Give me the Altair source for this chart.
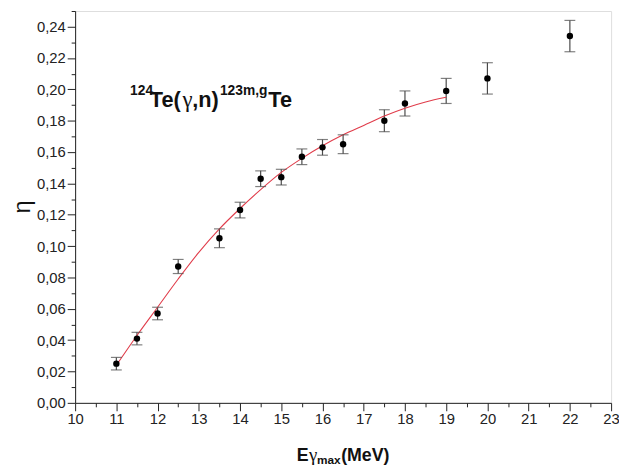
import altair as alt
import pandas as pd

# measured points
energy = [11, 11.5, 12, 12.5, 13.5, 14, 14.5, 15, 15.5, 16, 16.5, 17.5, 18, 19, 20, 22]
eta = [0.025, 0.041, 0.057, 0.087, 0.105, 0.123, 0.143, 0.144, 0.157, 0.163, 0.165,
       0.180, 0.191, 0.199, 0.207, 0.234]
eta_err = [0.004, 0.004, 0.004, 0.0045, 0.006, 0.005, 0.005, 0.005, 0.005, 0.005, 0.006,
           0.007, 0.008, 0.008, 0.010, 0.010]

# fitted curve
fit_energy = [11, 11.5, 12, 12.5, 13, 13.5, 14, 14.5, 15, 15.5, 16, 16.5, 17, 17.5, 18, 18.5, 19]
fit_eta = [0.024, 0.043, 0.061, 0.079, 0.096, 0.111, 0.124, 0.136, 0.147, 0.156, 0.164,
           0.171, 0.177, 0.183, 0.188, 0.192, 0.195]

# tick values
x_major = list(range(10, 24))
x_minor = [v + 0.5 for v in range(10, 23)]
y_major = [round(0.02 * i, 2) for i in range(13)]
y_minor = [round(0.01 + 0.02 * i, 2) for i in range(13)]

# annotation pieces
ann_text = ["124", "Te(", "γ", ",n)", "123m,g", "Te"]
xt_text = ["E", "γ", "max", "(MeV)"]

# annotation anchors (data coordinates)
ann_x = 11.333
ann_y = 0.1889
xt_x = 15.375
xt_y = -0.0368

FONT = "Liberation Sans"
SERIF = "Liberation Serif"

df = pd.DataFrame({"E": energy, "eta": eta, "err": eta_err})
df["lo"] = df["eta"] - df["err"]
df["hi"] = df["eta"] + df["err"]
fit_df = pd.DataFrame({"E": fit_energy, "eta": fit_eta})

x_scale = alt.Scale(domain=[10, 23], nice=False, zero=False)
y_scale = alt.Scale(domain=[0, 0.25], nice=False, zero=False)

common = dict(labelFont=FONT, labelFontSize=15, labelColor="#222", domainColor="#222",
              tickColor="#222", grid=False, labelOverlap=False)

x_axis_major = alt.Axis(values=x_major, format="d", tickSize=8, labelPadding=1,
                        orient="bottom", title=None, labelFlush=False, **common)
x_axis_minor = alt.Axis(values=x_minor, tickSize=4, labels=False, domain=False,
                        orient="bottom", title=None, grid=False, tickColor="#222")
y_axis_major = alt.Axis(
    values=y_major, labelExpr="replace(format(datum.value, '.2f'), '.', ',')",
    tickSize=8, labelPadding=2, orient="left", **common,
    title="η", titleFont=FONT, titleFontSize=24, titleFontWeight="normal", titleColor="#111",
    titleX=-53, titleY=198, titleAlign="center", titleBaseline="middle", titleAngle=270,
)
y_axis_minor = alt.Axis(values=y_minor, tickSize=4, labels=False, domain=False,
                        orient="left", title=None, grid=False, tickColor="#222")

base = alt.Chart(df)

bars = base.mark_rule(color="#4a4a4a", strokeWidth=1.2).encode(
    x=alt.X("E:Q", scale=x_scale, axis=x_axis_major),
    y=alt.Y("lo:Q", scale=y_scale, axis=y_axis_major),
    y2="hi:Q",
)
minor = base.mark_point(opacity=0).encode(
    x=alt.X("E:Q", scale=x_scale, axis=x_axis_minor),
    y=alt.Y("eta:Q", scale=y_scale, axis=y_axis_minor),
)
cap_lo = base.mark_tick(color="#4a4a4a", orient="horizontal", size=11, thickness=1.2).encode(
    x=alt.X("E:Q", axis=None), y=alt.Y("lo:Q", axis=None))
cap_hi = base.mark_tick(color="#4a4a4a", orient="horizontal", size=11, thickness=1.2).encode(
    x=alt.X("E:Q", axis=None), y=alt.Y("hi:Q", axis=None))

fit = alt.Chart(fit_df).mark_line(color="#e03c4a", strokeWidth=1.1, interpolate="monotone").encode(
    x=alt.X("E:Q", axis=None), y=alt.Y("eta:Q", axis=None))

pts = base.mark_circle(color="black", opacity=1, size=42).encode(
    x=alt.X("E:Q", axis=None), y=alt.Y("eta:Q", axis=None))


def piece(text, x, y, size, dx, dy, font=FONT, weight="bold"):
    d = pd.DataFrame({"t": [text], "x": [x], "y": [y]})
    return alt.Chart(d).mark_text(
        font=font, fontSize=size, fontWeight=weight, align="left", baseline="alphabetic",
        color="#111", dx=dx, dy=dy,
    ).encode(x=alt.X("x:Q", axis=None), y=alt.Y("y:Q", axis=None), text="t:N")


ann = [
    piece(ann_text[0], ann_x, ann_y, 14, 0, -12),
    piece(ann_text[1], ann_x, ann_y, 22, 20, 0),
    piece(ann_text[2], ann_x, ann_y, 23, 53, 0, SERIF, "normal"),
    piece(ann_text[3], ann_x, ann_y, 22, 63, 0),
    piece(ann_text[4], ann_x, ann_y, 14, 91, -12),
    piece(ann_text[5], ann_x, ann_y, 22, 140, 0),
]
xt = [
    piece(xt_text[0], xt_x, xt_y, 18, 0, 0),
    piece(xt_text[1], xt_x, xt_y, 19, 12.5, 0, SERIF, "normal"),
    piece(xt_text[2], xt_x, xt_y, 12, 20.5, 4),
    piece(xt_text[3], xt_x, xt_y, 18, 45, 0),
]

chart = alt.layer(
    bars, minor, fit, cap_lo, cap_hi, pts, *ann, *xt,
).resolve_axis(x="independent", y="independent").properties(
    width=543, height=397,
    autosize=alt.AutoSizeParams(type="none"),
    padding={"left": 68, "top": 0, "right": 8, "bottom": 66},
).configure_view(stroke=None).configure(background="white")

chart.save("out.html", embed_options={"renderer": "svg", "actions": False})
